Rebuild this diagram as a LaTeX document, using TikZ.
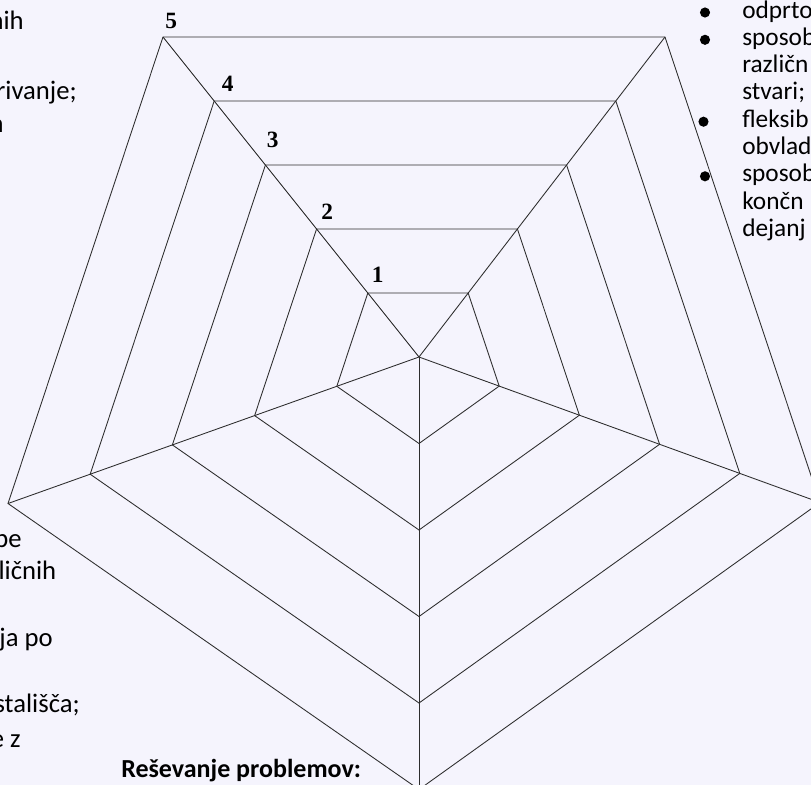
\documentclass[tikz,border=0pt]{standalone}
\usepackage{fontspec}
\setmainfont{Carlito}
\newfontfamily\lvlfont{Liberation Serif}
\usetikzlibrary{calc}
\definecolor{pagebg}{RGB}{245,244,253}
\definecolor{webline}{RGB}{45,45,45}
\begin{document}
\begin{tikzpicture}[
    x=0.75pt, y=-0.75pt,
    web/.style={draw=webline, line width=0.65pt, line join=miter},
    lvl/.style={font=\lvlfont\bfseries\fontsize{17.5}{19}\selectfont,
                inner sep=0pt, anchor=base west},
    lefttxt/.style={font=\fontsize{20}{24}\selectfont, inner sep=0pt, anchor=base east},
    righttxt/.style={font=\fontsize{19}{22}\selectfont, inner sep=0pt, anchor=base west},
    heading/.style={font=\bfseries\fontsize{19.5}{23}\selectfont, inner sep=0pt, anchor=base west},
    bulletdot/.style={circle, fill=black, inner sep=0pt, minimum size=7.6pt},
]
\useasboundingbox (0,0) rectangle (811,785);
\fill[pagebg] (0,0) rectangle (811,785);

% centre and one step along each axis
\coordinate (c) at (419,357);
\coordinate (dtl) at (-51.2,-64);
\coordinate (dtr) at (49.2,-64);
\coordinate (drt) at (80.2,29.1);
\coordinate (dbt) at (0,86.5);
\coordinate (dlf) at (-82.2,29.3);

\foreach \k in {1,...,5} {
  \coordinate (tl\k) at ($(c)+\k*(dtl)$);
  \coordinate (tr\k) at ($(c)+\k*(dtr)$);
  \coordinate (rt\k) at ($(c)+\k*(drt)$);
  \coordinate (bt\k) at ($(c)+\k*(dbt)$);
  \coordinate (lf\k) at ($(c)+\k*(dlf)$);
  \draw[web] (tl\k) -- (tr\k) -- (rt\k) -- (bt\k) -- (lf\k) -- cycle;
}
\draw[web] (c) -- (tl5);
\draw[web] (c) -- (tr5);
\draw[web] (c) -- (rt5);
\draw[web] (c) -- (bt5);
\draw[web] (c) -- (lf5);

% scale labels
\node[lvl] (l1) at (371.5,282.5) {1};
\node[lvl] (l2) at (321,219) {2};
\node[lvl] (l3) at (266.5,147.5) {3};
\node[lvl] (l4) at (221.5,91) {4};
\node[lvl] (l5) at (165,28.5) {5};

% text cut by the left edge
\node[lefttxt] (ta) at (24,30) {nih};
\node[lefttxt] (tb) at (77,99) {rivanje;};
\node[lefttxt] (tc) at (4,132) {n};
\node[lefttxt] (td) at (22,547) {pe};
\node[lefttxt] (te) at (56.5,579) {ličnih};
\node[lefttxt] (tf) at (53,646) {ja po};
\node[lefttxt] (tg) at (80,712) {stališča;};
\node[lefttxt] (th) at (21,747) {e z};

\node[heading] (res) at (121,777) {Reševanje problemov:};

% text cut by the right edge
\node[bulletdot] (b1) at (705,12.5) {};
\node[righttxt] (r1) at (742,18) {odprto};
\node[bulletdot] (b2) at (705,39.8) {};
\node[righttxt] (r2) at (742,45.3) {sposob};
\node[righttxt] (r3) at (742,72.6) {različn};
\node[righttxt] (r4) at (742,99.9) {stvari;};
\node[bulletdot] (b3) at (703.5,121.7) {};
\node[righttxt] (r5) at (742,127.2) {fleksib};
\node[righttxt] (r6) at (742,154.5) {obvlad};
\node[bulletdot] (b4) at (705,176.3) {};
\node[righttxt] (r7) at (742,181.8) {sposob};
\node[righttxt] (r8) at (742,209.1) {končn};
\node[righttxt] (r9) at (742,236.4) {dejanj};
\end{tikzpicture}
\end{document}
